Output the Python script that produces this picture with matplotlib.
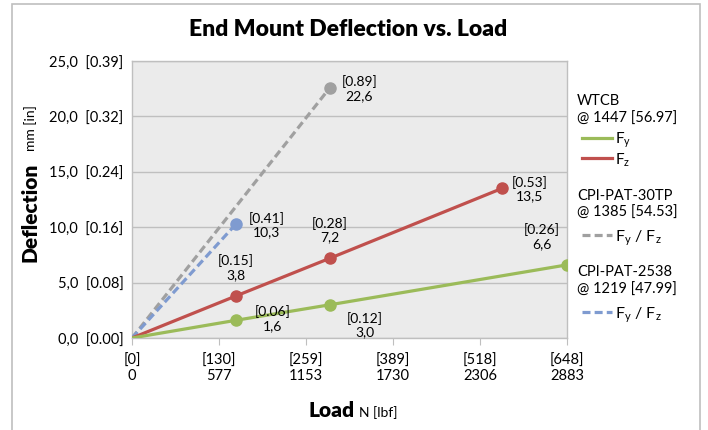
import matplotlib
matplotlib.use("Agg")
import matplotlib.pyplot as plt
from matplotlib.lines import Line2D
from matplotlib.patches import Rectangle

plt.rcParams['font.family'] = ['Lato', 'DejaVu Sans']

# load in N, deflection in mm
load_wtcb_fy = [0, 690, 1312, 2883]
defl_wtcb_fy = [0, 1.6, 3.0, 6.6]
load_wtcb_fz = [0, 690, 1312, 2452]
defl_wtcb_fz = [0, 3.8, 7.2, 13.5]
load_30tp = [0, 1312]
defl_30tp = [0, 22.6]
load_2538 = [0, 690]
defl_2538 = [0, 10.3]

x_ticks = [0, 576.6, 1153.2, 1729.8, 2306.4, 2883]
x_ticklabels = ["[0]\n0", "[130]\n577", "[259]\n1153", "[389]\n1730", "[518]\n2306", "[648]\n2883"]
y_ticks = [0, 5, 10, 15, 20, 25]
y_ticklabels = ["0,0  [0.00]", "5,0  [0.08]", "10,0  [0.16]", "15,0  [0.24]", "20,0  [0.32]", "25,0  [0.39]"]

GREEN = '#9BBB59'
RED = '#C0504D'
GRAY = '#A0A0A0'
BLUE = '#7F9BD0'


def fmt_label(mm):
    return "[%.2f]\n%s" % (mm / 25.4, ("%.1f" % mm).replace(".", ","))


fig = plt.figure(figsize=(7.08, 4.31), dpi=100)
fig.add_artist(Rectangle((12 / 708, -0.01), 688 / 708, 1 - 5 / 431 + 0.01,
                         transform=fig.transFigure, fill=False, edgecolor='#BFBFBF', lw=1.2))

ax = fig.add_axes([132 / 708, 1 - 339 / 431, 435 / 708, 277 / 431])
ax.set_facecolor('#EBEBEB')
ax.set_xlim(0, 2883)
ax.set_ylim(0, 25)
ax.set_yticks(y_ticks)
ax.set_yticklabels(y_ticklabels, fontsize=10.5)
ax.set_xticks(x_ticks)
ax.set_xticklabels(x_ticklabels, fontsize=10.5, linespacing=1.05)
ax.tick_params(axis='y', length=0, pad=6)
ax.tick_params(axis='x', length=5, color='#BFBFBF', pad=6)
ax.grid(axis='y', color='#BFBFBF', lw=1.0)
ax.set_axisbelow(True)
for s in ax.spines.values():
    s.set_color('#BFBFBF')
    s.set_linewidth(1.0)

ax.plot(load_30tp, defl_30tp, color=GRAY, lw=2.3, ls=(0, (2.5, 1.3)), marker='o', markersize=8, markevery=[1], zorder=3)
ax.plot(load_2538, defl_2538, color=BLUE, lw=2.3, ls=(0, (2.5, 1.3)), marker='o', markersize=8, markevery=[1], zorder=3)
ax.plot(load_wtcb_fz, defl_wtcb_fz, color=RED, lw=2.3, marker='o', markersize=8, markevery=[1, 2, 3], zorder=3)
ax.plot(load_wtcb_fy, defl_wtcb_fy, color=GREEN, lw=2.3, marker='o', markersize=8, markevery=[1, 2, 3], zorder=3)

lab_kw = dict(textcoords='offset points', ha='center', va='center', fontsize=10, linespacing=1.15, zorder=4)
# data labels
ax.annotate(fmt_label(defl_30tp[1]), (load_30tp[1], defl_30tp[1]), xytext=(21, 0), **lab_kw)
ax.annotate(fmt_label(defl_2538[1]), (load_2538[1], defl_2538[1]), xytext=(22, 0), **lab_kw)
for i in [1, 2]:
    ax.annotate(fmt_label(defl_wtcb_fz[i]), (load_wtcb_fz[i], defl_wtcb_fz[i]), xytext=(0, 21), **lab_kw)
ax.annotate(fmt_label(defl_wtcb_fz[3]), (load_wtcb_fz[3], defl_wtcb_fz[3]), xytext=(20, 0), **lab_kw)
ax.annotate(fmt_label(defl_wtcb_fy[1]), (load_wtcb_fy[1], defl_wtcb_fy[1]), xytext=(26, 2), **lab_kw)
ax.annotate(fmt_label(defl_wtcb_fy[2]), (load_wtcb_fy[2], defl_wtcb_fy[2]), xytext=(25, -14), **lab_kw)
ax.annotate(fmt_label(defl_wtcb_fy[3]), (load_wtcb_fy[3], defl_wtcb_fy[3]), xytext=(-18, 21), **lab_kw)

# title and axis titles
fig.text(348 / 708, 1 - 30 / 431, "End Mount Deflection vs. Load", ha='center', va='center',
         fontsize=16.5, fontweight='heavy')
fig.text(30 / 708, 1 - 212 / 431, "Deflection", rotation=90, ha='center', va='center',
         fontsize=15, fontweight='heavy')
fig.text(31 / 708, 1 - 128 / 431, "mm [in]", rotation=90, ha='center', va='center', fontsize=10)
fig.text(332 / 708, 1 - 411 / 431, "Load", ha='center', va='center', fontsize=15, fontweight='heavy')
fig.text(359 / 708, 1 - 413 / 431, "N [lbf]", ha='left', va='center', fontsize=10)

# legend drawn by hand
def leg_line(y, color, dashed):
    ls = (0, (2.5, 1.3)) if dashed else '-'
    fig.add_artist(Line2D([582 / 708, 612 / 708], [1 - y / 431, 1 - y / 431], transform=fig.transFigure,
                          color=color, lw=2.3, ls=ls))

lx = 577 / 708
fig.text(lx, 1 - 101 / 431, "WTCB", fontsize=10.5, va='center')
fig.text(lx, 1 - 119 / 431, "@ 1447 [56.97]", fontsize=10.5, va='center')
leg_line(139, GREEN, False)
fig.text(615 / 708, 1 - 140 / 431, r"F$_\mathregular{y}$", fontsize=11, va='center')
leg_line(159, RED, False)
fig.text(615 / 708, 1 - 160 / 431, r"F$_\mathregular{z}$", fontsize=11, va='center')

fig.text(lx, 1 - 196 / 431, "CPI-PAT-30TP", fontsize=10.5, va='center')
fig.text(lx, 1 - 213 / 431, "@ 1385 [54.53]", fontsize=10.5, va='center')
leg_line(236, GRAY, True)
fig.text(615 / 708, 1 - 238 / 431, r"F$_\mathregular{y}$ / F$_\mathregular{z}$", fontsize=11.5, va='center')

fig.text(lx, 1 - 272 / 431, "CPI-PAT-2538", fontsize=10.5, va='center')
fig.text(lx, 1 - 290 / 431, "@ 1219 [47.99]", fontsize=10.5, va='center')
leg_line(313, BLUE, True)
fig.text(615 / 708, 1 - 315 / 431, r"F$_\mathregular{y}$ / F$_\mathregular{z}$", fontsize=11.5, va='center')

fig.savefig("out.png", dpi=100)
